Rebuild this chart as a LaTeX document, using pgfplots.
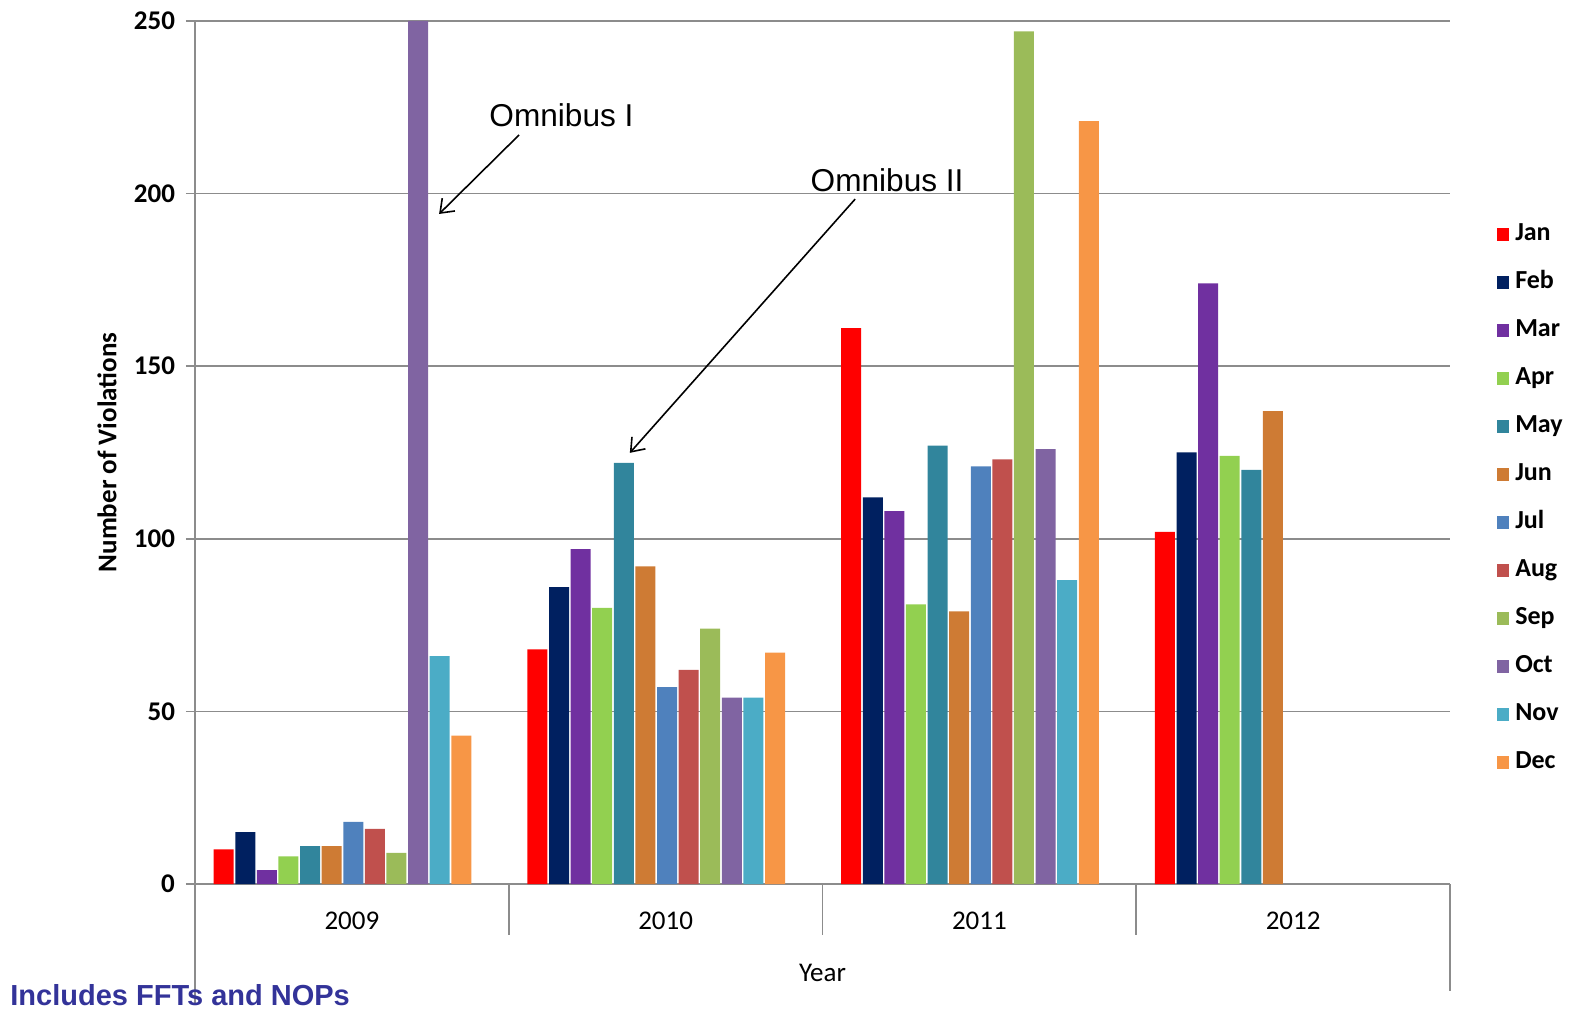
\documentclass[border=0pt]{standalone}
\usepackage{pgfplots}
\pgfplotsset{compat=1.18}
\usepackage{pgfplotstable}
\usepackage{fontspec}
\setmainfont{Carlito}
\newfontfamily\arialfont{Liberation Sans}
\usetikzlibrary{arrows.meta}

\definecolor{cJan}{RGB}{255,0,0}
\definecolor{cFeb}{RGB}{0,32,96}
\definecolor{cMar}{RGB}{112,48,160}
\definecolor{cApr}{RGB}{146,208,80}
\definecolor{cMay}{RGB}{49,133,156}
\definecolor{cJun}{RGB}{206,123,52}
\definecolor{cJul}{RGB}{79,129,189}
\definecolor{cAug}{RGB}{192,80,77}
\definecolor{cSep}{RGB}{155,187,89}
\definecolor{cOct}{RGB}{128,100,162}
\definecolor{cNov}{RGB}{75,172,198}
\definecolor{cDec}{RGB}{247,150,70}
\definecolor{gridgray}{RGB}{140,140,140}
\definecolor{notecol}{RGB}{51,51,153}

% violations per month, one row per year (2009..2012)
\pgfplotstableread{
x Jan Feb Mar Apr May Jun Jul Aug Sep Oct Nov Dec
0 10  15  4   8   11  11  18  16  9   250 66  43
1 68  86  97  80  122 92  57  62  74  54  54  67
2 161 112 108 81  127 79  121 123 247 126 88  221
3 102 125 174 124 120 137 nan nan nan nan nan nan
}\viol

\pgfplotsset{
  mybar/.style={fill=#1, draw=none,
    legend image code/.code={\fill[fill=#1] (0pt,-3.1pt) rectangle (6.2pt,3.1pt);}},
}

\begin{document}
\begin{tikzpicture}
\path[use as bounding box] (-97.5pt,-63pt) rectangle (688.5pt,442pt);
\begin{axis}[
  scale only axis, width=627.5pt, height=431.5pt,
  at={(0,0)}, anchor=south west,
  ybar=0.8pt, bar width=10pt,
  xmin=-0.47, xmax=3.53, ymin=0, ymax=250,
  clip=false,
  axis x line*=bottom, axis y line*=left,
  axis line style={draw=gridgray, line width=0.8pt, -},
  ymajorgrids, grid style={draw=gridgray, line width=0.8pt},
  ytick={0,50,...,250},
  tick align=outside, major tick length=4.5pt,
  ytick style={draw=gridgray, line width=0.8pt},
  xtick={0.03,1.03,2.03,3.03},
  xticklabels={2009,2010,2011,2012},
  xtick style={draw=none},
  /pgf/number format/assume math mode=true,
  tick label style={font=\fontsize{13.5}{16}\selectfont},
  yticklabel style={font=\bfseries\fontsize{13.5}{16}\selectfont, xshift=-2pt},
  xticklabel style={yshift=-6pt},
  xlabel={Year},
  xlabel style={at={(rel axis cs:0.5,-0.103)}, anchor=center,
    font=\fontsize{13.5}{16}\selectfont},
  ylabel={Number of Violations},
  ylabel style={at={(rel axis cs:-0.0701,0.5)}, anchor=center, rotate=0,
    font=\bfseries\fontsize{13.5}{16}\selectfont},
  legend cell align=left,
  legend style={draw=none, fill=none, at={(1.037,0.7694)}, anchor=north west,
    inner sep=0pt, row sep=10pt,
    font=\bfseries\fontsize{13}{15}\selectfont,
    nodes={inner sep=1pt, text height=9pt, text depth=3pt},
    /tikz/every odd column/.append style={column sep=2pt}},
]
\addplot[mybar=cJan] table[x=x, y=Jan] {\viol};
\addplot[mybar=cFeb] table[x=x, y=Feb] {\viol};
\addplot[mybar=cMar] table[x=x, y=Mar] {\viol};
\addplot[mybar=cApr] table[x=x, y=Apr] {\viol};
\addplot[mybar=cMay] table[x=x, y=May] {\viol};
\addplot[mybar=cJun] table[x=x, y=Jun] {\viol};
\addplot[mybar=cJul] table[x=x, y=Jul] {\viol};
\addplot[mybar=cAug] table[x=x, y=Aug] {\viol};
\addplot[mybar=cSep] table[x=x, y=Sep] {\viol};
\addplot[mybar=cOct] table[x=x, y=Oct] {\viol};
\addplot[mybar=cNov] table[x=x, y=Nov] {\viol};
\addplot[mybar=cDec] table[x=x, y=Dec] {\viol};
\legend{Jan,Feb,Mar,Apr,May,Jun,Jul,Aug,Sep,Oct,Nov,Dec}

% axis box lines that run below the category labels, and the category dividers
\draw[gridgray, line width=0.8pt] (axis cs:-0.47,0) -- (axis cs:-0.47,-35);
\draw[gridgray, line width=0.8pt] (axis cs:3.53,0) -- (axis cs:3.53,-31);
\draw[gridgray, line width=0.8pt] (axis cs:0.53,0) -- (axis cs:0.53,-14.8);
\draw[gridgray, line width=0.8pt] (axis cs:1.53,0) -- (axis cs:1.53,-14.8);
\draw[gridgray, line width=0.8pt] (axis cs:2.53,0) -- (axis cs:2.53,-14.8);

% annotations
\node[anchor=base, font=\arialfont\fontsize{15.8}{18}\selectfont, inner sep=0pt]
  at (axis cs:0.698,219.3) {Omnibus I};
\draw[line width=0.8pt, -{Straight Barb[length=6pt, width=9pt]}]
  (axis cs:0.563,217.0) -- (axis cs:0.308,194.1);
\node[anchor=base, font=\arialfont\fontsize{15.8}{18}\selectfont, inner sep=0pt]
  at (axis cs:1.736,200.5) {Omnibus II};
\draw[line width=0.8pt, -{Straight Barb[length=6pt, width=9pt]}]
  (axis cs:1.634,198.4) -- (axis cs:0.916,124.9);
\end{axis}
\node[anchor=base west, inner sep=0pt, text=notecol,
  font=\arialfont\bfseries\fontsize{14.5}{17}\selectfont]
  at (-92.5pt,-60.5pt) {Includes FFTs and NOPs};
\end{tikzpicture}
\end{document}
